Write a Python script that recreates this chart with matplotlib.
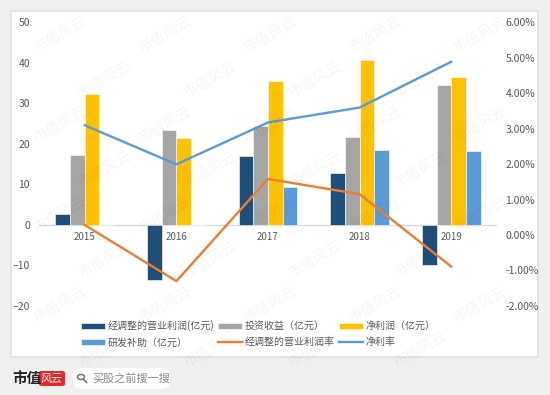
import numpy as np
import matplotlib.pyplot as plt
from matplotlib.patches import FancyBboxPatch, Circle
from matplotlib.lines import Line2D
from matplotlib.ticker import FuncFormatter

plt.rcParams['font.family'] = ['Noto Sans CJK SC', 'DejaVu Sans']

# ── data ──────────────────────────────────────────────────────────────
years = ['2015', '2016', '2017', '2018', '2019']
adj_op_profit = [2.7, -13.7, 16.9, 12.7, -10.0]      # 经调整的营业利润(亿元)
invest_income = [17.2, 23.5, 24.3, 21.7, 34.4]      # 投资收益（亿元）
net_profit = [32.3, 21.4, 35.5, 40.6, 36.5]         # 净利润（亿元）
rd_subsidy = [0, 0, 9.4, 18.4, 18.1]                # 研发补助（亿元）
adj_op_margin = [0.0028, -0.0130, 0.0158, 0.0115, -0.0089]  # 经调整的营业利润率
net_margin = [0.0309, 0.0199, 0.0317, 0.0359, 0.0488]       # 净利率

bar_series = [
    (adj_op_profit, '#1f4e79', '经调整的营业利润(亿元)'),
    (invest_income, '#a5a5a5', '投资收益（亿元）'),
    (net_profit, '#ffc000', '净利润（亿元）'),
    (rd_subsidy, '#5b9bd5', '研发补助（亿元）'),
]
line_series = [
    (adj_op_margin, '#ed7d31', '经调整的营业利润率'),
    (net_margin, '#5b9bd5', '净利率'),
]

W, H = 550, 395
fig = plt.figure(figsize=(W / 100, H / 100), dpi=100)
fig.patch.set_facecolor('#efefef')

def px(x, y):
    return x / W, 1 - y / H

# white panel
panel = FancyBboxPatch((11 / W, 1 - 357 / H), 527 / W, 346 / H,
                       boxstyle='square,pad=0', transform=fig.transFigure,
                       facecolor='white', edgecolor='#e0e0e0', lw=1.2, zorder=-5)
fig.patches.append(panel)

# watermarks
for row in range(8):
    for col in range(5):
        wx = 60 + col * 105 + (row % 2) * 45
        wy = 35 + row * 45
        if wx > 515 or wy > 370:
            continue
        fx, fy = px(wx, wy)
        fig.text(fx, fy, '市值风云', fontsize=10.5, color='#000000', alpha=0.045,
                 rotation=30, ha='center', va='center', zorder=10)

# ── chart ─────────────────────────────────────────────────────────────
ax = fig.add_axes([39 / W, 1 - 306 / H, 458 / W, 284 / H])
ax.set_facecolor('none')
x = np.arange(len(years))
bw = 0.16
for i, (vals, color, label) in enumerate(bar_series):
    ax.bar(x + (i - 1.5) * bw, vals, bw, color=color, edgecolor='white',
           linewidth=0.4, label=label, zorder=2)

ax.set_xlim(-0.5, len(years) - 0.5)
ax.set_ylim(-20, 50)
ax.set_yticks(range(-20, 51, 10))
ax.set_xticks([])
for s in ['top', 'right', 'left', 'bottom']:
    ax.spines[s].set_visible(False)
ax.axhline(0, color='#d9d9d9', lw=1, zorder=1)
for xi, yr in zip(x, years):
    ax.text(xi, -1.8, yr, ha='center', va='top', fontsize=7, color='#595959')
ax.tick_params(axis='y', length=0, labelsize=7.5, labelcolor='#595959', pad=6.5)

ax2 = ax.twinx()
for vals, color, label in line_series:
    ax2.plot(x, vals, color=color, lw=1.7, label=label, zorder=3)
ax2.set_ylim(-0.02, 0.06)
ax2.set_yticks(np.arange(-0.02, 0.061, 0.01))
ax2.yaxis.set_major_formatter(FuncFormatter(lambda v, p: f'{v * 100:.2f}%'))
ax2.tick_params(axis='y', length=0, labelsize=7.5, labelcolor='#595959', pad=6)
for s in ['top', 'right', 'left', 'bottom']:
    ax2.spines[s].set_visible(False)

# legend, filled row by row
h1, l1 = ax.get_legend_handles_labels()
h2, l2 = ax2.get_legend_handles_labels()
handles = h1 + h2
labels = l1 + l2
order = [0, 3, 1, 4, 2, 5]
fig.legend([handles[i] for i in order], [labels[i] for i in order], ncol=3,
           loc='center', bbox_to_anchor=(px(258, 334)),
           fontsize=7.2, frameon=False, handlelength=2.4, handleheight=0.55,
           handletextpad=0.25, columnspacing=0.4, labelspacing=0.6,
           labelcolor='#595959')

# ── footer ────────────────────────────────────────────────────────────
fx, fy = px(12, 378)
fig.text(fx, fy, '市值', fontsize=10.5, fontweight='bold', color='#222222',
         ha='left', va='center')
logo = FancyBboxPatch((39 / W, 1 - 386 / H), 26 / W, 15 / H,
                      boxstyle='round,pad=0,rounding_size=0.005',
                      transform=fig.transFigure, facecolor='#e8272d',
                      edgecolor='none')
fig.patches.append(logo)
fx, fy = px(52, 378.5)
fig.text(fx, fy, '风云', fontsize=8, color='white', style='italic',
         ha='center', va='center')
search = FancyBboxPatch((73 / W, 1 - 389 / H), 97 / W, 21 / H,
                        boxstyle='round,pad=0,rounding_size=0.018',
                        transform=fig.transFigure, facecolor='white',
                        edgecolor='none')
fig.patches.append(search)
cx, cy = px(81, 377)
fig.patches.append(Circle((cx, cy), 3.5 / W, transform=fig.transFigure,
                          fill=False, edgecolor='#777777', lw=1.1))
fig.lines.append(Line2D([px(83.5, 379.5)[0], px(86.5, 382.5)[0]],
                        [px(83.5, 379.5)[1], px(86.5, 382.5)[1]],
                        transform=fig.transFigure, color='#777777', lw=1.2))
fx, fy = px(92, 378)
fig.text(fx, fy, '买股之前搜一搜', fontsize=8, color='#888888',
         ha='left', va='center')

fig.savefig('out.png', dpi=100, facecolor=fig.get_facecolor())
